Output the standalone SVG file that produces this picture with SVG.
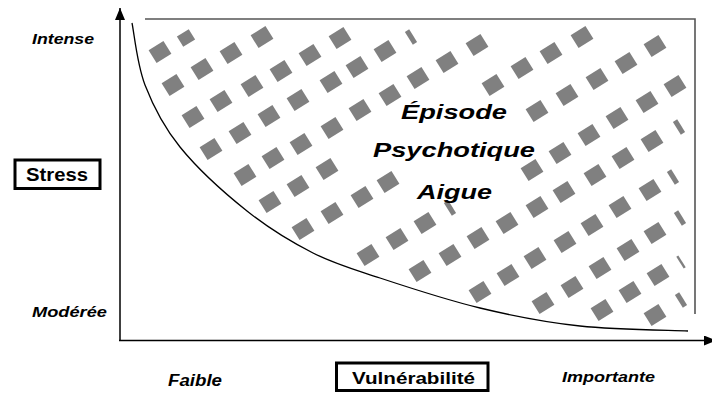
<svg xmlns="http://www.w3.org/2000/svg" xmlns:xlink="http://www.w3.org/1999/xlink" width="712" height="394" viewBox="0 0 712 394">
<style>
.lab{font-family:"Liberation Sans",Arial,sans-serif;font-weight:bold;font-style:italic;fill:#000}
.box{font-family:"Liberation Sans",Arial,sans-serif;font-weight:bold;fill:#000}
.sq{fill:#808080}
</style>
<defs>
<rect id="sq" class="sq" x="-8.75" y="-7.5" width="17.5" height="15" transform="rotate(-32)"/>
<rect id="sqs" class="sq" x="-7" y="-6" width="14" height="12" transform="rotate(-32)"/>
<rect id="sl" class="sq" x="-2.5" y="-7.5" width="5" height="15" transform="rotate(-32)"/>
<rect id="sl2" class="sq" x="-1.2" y="-7" width="2.4" height="14" transform="rotate(-32)"/>
<marker id="ah" viewBox="0 0 12 10" refX="12" refY="5" markerWidth="12" markerHeight="10" markerUnits="userSpaceOnUse" orient="auto">
<path d="M0,0 L12,5 L0,10 Z" fill="#000"/>
</marker>
</defs>
<rect width="712" height="394" fill="#fff"/>

<g id="pattern">
<use href="#sq" x="160" y="52"/><use href="#sqs" x="186" y="38"/>
<use href="#sq" x="173" y="85"/><use href="#sq" x="202" y="69"/><use href="#sq" x="231" y="53"/><use href="#sq" x="262" y="37"/>
<use href="#sq" x="193" y="117"/><use href="#sq" x="221" y="101"/><use href="#sq" x="252" y="86"/><use href="#sq" x="281" y="71"/><use href="#sq" x="310" y="55"/><use href="#sq" x="340" y="38"/>
<use href="#sq" x="211" y="149"/><use href="#sq" x="240" y="133"/><use href="#sq" x="269" y="116"/><use href="#sq" x="298" y="100"/><use href="#sq" x="331" y="82"/><use href="#sq" x="357" y="67"/><use href="#sq" x="385" y="51"/><use href="#sl" x="411" y="37"/>
<use href="#sq" x="245" y="175"/><use href="#sq" x="273" y="158"/><use href="#sq" x="301" y="144"/><use href="#sq" x="332" y="128"/><use href="#sq" x="360" y="110"/><use href="#sq" x="390" y="95"/><use href="#sq" x="418" y="78"/><use href="#sq" x="447" y="62"/><use href="#sq" x="477" y="45"/>
<use href="#sq" x="270" y="202"/><use href="#sq" x="298" y="186"/><use href="#sq" x="327" y="169"/><use href="#sq" x="493" y="85"/><use href="#sq" x="522" y="68"/><use href="#sq" x="551" y="53"/><use href="#sq" x="582" y="37"/>
<use href="#sq" x="303" y="229"/><use href="#sq" x="332" y="213"/><use href="#sq" x="362" y="197"/><use href="#sq" x="388" y="182"/><use href="#sq" x="537" y="111"/><use href="#sq" x="567" y="95"/><use href="#sq" x="597" y="79"/><use href="#sq" x="626" y="63"/><use href="#sq" x="655" y="46"/>
<use href="#sq" x="368" y="255"/><use href="#sq" x="397" y="239"/><use href="#sq" x="425" y="223"/><use href="#sl" x="450" y="208"/><use href="#sq" x="532" y="170"/><use href="#sq" x="560" y="153"/><use href="#sq" x="589" y="135"/><use href="#sq" x="617" y="118"/><use href="#sq" x="647" y="102"/><use href="#sq" x="675" y="86"/>
<use href="#sq" x="420" y="271"/><use href="#sq" x="450" y="255"/><use href="#sq" x="478" y="238"/><use href="#sq" x="507" y="223"/><use href="#sq" x="537" y="207"/><use href="#sq" x="564" y="192"/><use href="#sq" x="595" y="175"/><use href="#sq" x="623" y="158"/><use href="#sq" x="652" y="141"/><use href="#sl" x="679" y="127"/>
<use href="#sq" x="480" y="292"/><use href="#sq" x="508" y="275"/><use href="#sq" x="535" y="258"/><use href="#sq" x="565" y="242"/><use href="#sq" x="592" y="225"/><use href="#sq" x="620" y="207"/><use href="#sq" x="650" y="190"/><use href="#sl" x="673" y="177"/>
<use href="#sq" x="543" y="303"/><use href="#sq" x="572" y="287"/><use href="#sq" x="600" y="268"/><use href="#sq" x="628" y="250"/><use href="#sq" x="655" y="233"/><use href="#sl" x="680" y="218"/>
<use href="#sq" x="602" y="310"/><use href="#sq" x="630" y="292"/><use href="#sq" x="658" y="275"/><use href="#sl2" x="681" y="262"/>
<use href="#sq" x="655" y="315"/><use href="#sl" x="681" y="300"/>
</g>

<g id="connectors" fill="none">
<line x1="120" y1="340" x2="120" y2="8" stroke="#000" stroke-width="1.5" marker-end="url(#ah)"/>
<line x1="119" y1="340.5" x2="716" y2="340.5" stroke="#000" stroke-width="1.5" marker-end="url(#ah)"/>
<polyline points="145,19 695,19 695,314" stroke="#555" stroke-width="1.6"/>
<path d="M132,23 C134.2,33.3 137,64.3 145,85 C153,105.7 163,126 180,147 C197,168 224.8,193.3 247,211 C269.2,228.7 290.8,241.8 313,253 C335.2,264.2 352.2,268.8 380,278 C407.8,287.2 446.7,300 480,308 C513.3,316 545.3,322.2 580,326 C614.7,329.8 670,330.2 688,331" stroke="#000" stroke-width="1.3"/>
</g>

<g id="stress">
<rect x="15" y="160" width="85" height="28.5" fill="#fff" stroke="#000" stroke-width="3"/>
<text class="box" x="26" y="181" font-size="18" textLength="62" lengthAdjust="spacingAndGlyphs">Stress</text>
</g>
<g id="vulnerabilite">
<rect x="336.5" y="363" width="151.5" height="27.5" fill="#fff" stroke="#000" stroke-width="3"/>
<text class="box" x="352" y="383.5" font-size="16" textLength="123" lengthAdjust="spacingAndGlyphs">Vulnérabilité</text>
</g>
<g id="intense"><text class="lab" x="32" y="43.5" font-size="15" textLength="62" lengthAdjust="spacingAndGlyphs">Intense</text></g>
<g id="moderee"><text class="lab" x="32" y="316.5" font-size="15" textLength="75" lengthAdjust="spacingAndGlyphs">Modérée</text></g>
<g id="faible"><text class="lab" x="168" y="386" font-size="16" textLength="54" lengthAdjust="spacingAndGlyphs">Faible</text></g>
<g id="importante"><text class="lab" x="562" y="382" font-size="15" textLength="93" lengthAdjust="spacingAndGlyphs">Importante</text></g>
<g id="episode">
<text class="lab" x="401" y="118.5" font-size="21" textLength="106" lengthAdjust="spacingAndGlyphs">Épisode</text>
<text class="lab" x="373" y="157" font-size="21" textLength="162" lengthAdjust="spacingAndGlyphs">Psychotique</text>
<text class="lab" x="417" y="199" font-size="21" textLength="75" lengthAdjust="spacingAndGlyphs">Aigue</text>
</g>
</svg>
